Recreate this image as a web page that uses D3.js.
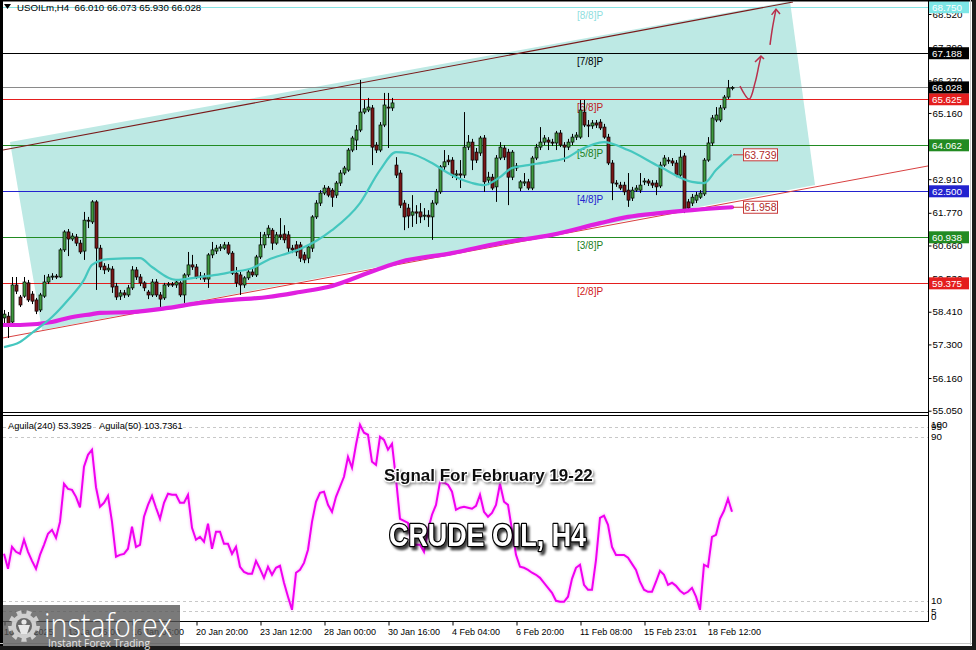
<!DOCTYPE html>
<html><head><meta charset="utf-8">
<script src="https://cdn.jsdelivr.net/npm/d3@7"></script>
<style>body{margin:0;background:#fff;overflow:hidden}svg{display:block}</style>
</head><body>
<svg id="c" width="976" height="650"></svg>
<script>
// ---------- DATA ----------
const symbolHeader = "USOILm,H4  66.010 66.073 65.930 66.028";
const subHeader = "Aguila(240) 53.3925   Aguila(50) 103.7361";
const opens = [58.20,58.26,58.06,59.32,58.91,58.94,59.39,59.01,58.81,58.47,
58.94,59.42,59.59,59.62,59.59,60.51,61.12,60.88,60.95,60.74,
60.47,61.52,61.46,62.14,60.57,59.96,59.83,59.86,59.28,58.94,
59.05,58.98,59.22,59.83,59.59,59.39,59.08,58.98,59.42,58.98,
58.88,59.32,59.35,59.32,59.39,58.98,59.66,60.00,59.93,59.59,
59.62,59.52,60.34,60.47,60.57,60.57,60.68,60.40,59.72,59.66,
59.32,59.56,59.76,59.66,60.27,60.68,61.02,61.18,60.74,61.02,
61.05,61.02,60.57,60.68,60.68,60.34,60.23,60.57,61.63,62.10,
62.44,62.61,62.54,62.37,62.78,63.12,63.22,63.90,64.24,64.58,
65.19,65.26,65.33,64.07,63.90,64.75,65.36,65.33,63.39,63.12,
62.10,61.93,61.69,61.80,61.80,61.66,61.69,61.63,62.10,62.48,
63.33,63.56,63.56,63.05,63.09,63.05,64.00,64.17,63.83,63.80,
64.31,62.88,62.98,62.65,63.63,63.97,63.83,62.98,63.36,62.61,
62.78,62.82,62.61,63.63,64.00,64.17,64.24,64.17,64.14,64.48,
64.07,64.00,64.17,64.34,64.34,65.19,64.75,64.72,64.82,64.85,
64.68,64.34,63.46,62.78,62.71,62.71,62.54,62.27,62.54,62.54,
62.82,62.85,62.78,62.78,62.68,63.39,63.56,63.53,63.46,63.05,
63.70,62.14,62.10,62.20,62.30,62.41,63.56,64.14,64.92,64.92,
65.33,65.70,66.010];
const highs = [58.47,58.40,59.59,59.59,58.98,59.59,59.49,59.11,58.88,59.05,
59.66,59.69,59.72,59.69,60.57,61.18,61.22,61.08,61.05,60.85,
61.80,61.63,62.20,62.20,60.68,60.06,60.03,59.96,59.39,59.15,
59.15,59.32,59.96,59.93,59.69,59.45,59.15,59.52,59.52,59.08,
59.39,59.42,59.42,59.49,59.45,59.72,60.44,60.34,60.03,59.76,
59.72,60.40,60.78,60.68,60.71,60.78,60.78,60.47,59.93,59.76,
59.62,59.86,59.86,60.34,61.12,61.12,61.35,61.25,61.12,61.59,
61.35,61.15,60.68,60.81,60.78,60.44,60.71,61.69,62.20,62.54,
62.71,62.68,62.61,62.85,63.22,63.36,63.97,64.38,64.75,66.28,
65.60,65.67,65.43,64.17,64.85,65.84,65.84,65.67,63.66,63.22,
62.20,62.07,62.37,62.03,62.10,61.93,61.86,62.20,62.58,63.39,
63.90,63.73,63.66,63.22,63.56,65.19,64.41,64.28,63.97,64.38,
64.41,63.16,63.09,63.73,64.17,64.07,63.94,63.90,63.46,62.88,
63.12,62.92,63.70,64.11,64.68,64.41,64.34,64.28,64.55,64.58,
64.17,64.28,64.45,64.51,65.60,65.60,64.92,64.92,64.92,64.95,
64.79,64.45,63.56,62.88,62.82,62.82,63.12,62.65,62.71,63.12,
62.95,62.92,62.88,62.88,63.50,63.73,63.66,63.63,63.56,63.90,
63.80,62.24,62.41,62.48,62.54,63.63,64.34,65.09,65.36,65.43,
65.77,66.28,66.073];
const lows = [57.99,57.52,57.99,59.01,58.57,58.88,58.74,58.67,58.33,58.40,
58.88,59.35,59.49,59.52,59.56,60.44,60.30,60.81,60.64,60.37,
60.17,61.25,61.39,59.15,59.83,59.69,59.76,59.05,58.81,58.81,
58.88,58.91,59.15,59.49,59.28,59.11,58.84,58.91,58.91,58.57,
58.81,59.25,59.25,59.22,58.91,58.71,59.59,59.83,59.52,59.49,
59.42,59.22,60.23,60.37,60.47,60.51,60.34,59.66,59.25,58.98,
59.22,59.49,59.59,59.59,60.20,60.57,60.91,60.51,60.68,60.85,
60.74,60.40,60.40,60.30,60.10,60.06,60.06,60.44,61.56,62.00,
62.37,62.30,61.97,62.27,62.68,63.05,63.16,63.83,63.90,64.51,
65.12,65.19,63.39,63.80,63.83,64.68,63.97,65.23,62.95,61.93,
61.18,61.25,61.29,61.39,61.42,61.52,61.29,60.85,62.03,62.41,
63.22,63.39,62.95,62.88,62.61,62.95,63.90,63.22,63.46,63.70,
62.48,62.71,62.54,62.14,63.56,63.56,62.03,62.88,63.19,62.51,
62.68,62.54,62.54,63.56,63.90,64.07,63.90,64.04,63.90,64.00,
63.50,63.90,64.07,64.24,64.28,64.68,64.34,64.62,64.65,64.58,
64.28,63.39,62.20,62.65,62.54,62.37,61.97,62.17,62.48,62.44,
62.71,62.68,62.61,62.37,62.61,63.33,63.43,63.36,62.98,62.98,
61.76,61.83,62.00,62.10,62.24,62.34,63.50,64.04,64.85,64.85,
65.26,65.63,65.930];
const closes = [58.33,57.96,59.32,59.11,58.64,59.42,58.81,58.77,58.43,58.98,
59.42,59.59,59.62,59.59,60.51,61.12,60.88,60.98,60.74,60.44,
61.52,61.49,62.14,60.57,59.93,59.83,59.89,59.25,58.91,59.05,
58.98,59.22,59.83,59.59,59.39,59.22,58.98,59.42,58.98,58.84,
59.32,59.35,59.32,59.42,58.98,59.66,60.00,59.93,59.59,59.62,
59.52,60.34,60.51,60.57,60.61,60.68,60.40,59.72,59.39,59.32,
59.56,59.76,59.66,60.27,60.68,61.02,61.25,60.74,61.02,60.95,
60.85,60.57,60.51,60.44,60.23,60.17,60.61,61.63,62.10,62.44,
62.61,62.37,62.30,62.78,63.12,63.29,63.90,64.31,64.58,65.19,
65.30,65.36,64.00,63.90,64.75,65.43,65.33,65.50,63.05,62.03,
61.63,61.66,61.80,61.76,61.63,61.69,61.63,62.10,62.48,63.33,
63.50,63.50,63.05,63.09,63.05,64.00,64.17,63.56,63.56,64.31,
62.82,62.98,62.61,63.63,64.00,63.66,62.98,63.83,63.29,62.82,
62.82,62.61,63.63,64.00,64.17,64.31,64.17,64.14,64.48,64.07,
64.00,64.17,64.34,64.41,65.26,64.75,64.72,64.82,64.75,64.65,
64.34,63.46,62.78,62.75,62.61,62.48,62.20,62.54,62.61,62.71,
62.85,62.78,62.71,62.65,63.39,63.63,63.53,63.46,63.05,63.66,
61.86,61.93,62.30,62.37,62.44,63.56,64.14,64.99,65.09,65.33,
65.70,66.01,66.028];

// moving averages (bar index, price)
const maFastIdx = [0,4,7,12,16,20,22,26,34,37,43,49,53,57,62,66,71,74,78,82,89,94,98,101,107,111,117,120,124,127,131,136,141,144,150,156,164,172,175,178,182];
const maFastVal = [57.21,57.38,57.69,58.23,58.81,59.49,60.00,60.20,60.23,59.93,59.49,59.59,59.66,59.76,59.89,60.17,60.40,60.54,60.81,61.18,62.10,63.22,63.83,63.80,63.46,63.12,62.78,62.71,62.98,63.29,63.39,63.50,63.66,63.90,64.17,63.90,63.33,62.82,62.78,63.22,63.739];
const maSlowIdx = [0,4,12,16,22,24,32,41,49,57,66,74,81,93,99,112,124,137,149,156,164,172,182];
const maSlowVal = [57.96,57.96,58.06,58.20,58.33,58.37,58.40,58.54,58.71,58.81,58.91,59.08,59.25,59.83,60.10,60.40,60.74,61.02,61.42,61.63,61.76,61.86,61.958];

// Aguila(240) oscillator, one value per bar
const aguila = [32.9,25.6,36.3,33.9,32.9,39.8,33.9,29.5,25.6,32.4,
37.3,42.7,44.6,40.7,48.5,67.1,64.6,64.1,60.7,55.6,
75.4,81.2,83.7,65.4,55.9,57.8,61.2,48.5,31.5,32.4,
32.9,35.4,46.1,36.3,37.3,51.0,56.8,61.2,55.4,50.0,
57.8,62.2,61.7,61.7,57.8,57.8,61.7,45.6,39.8,41.2,
38.8,47.6,35.4,43.7,43.7,37.8,37.8,32.9,36.3,26.6,
24.1,23.2,23.2,29.5,25.6,21.2,26.6,22.7,26.1,27.1,
18.8,12.0,5.6,23.7,25.1,28.5,34.9,48.5,58.3,62.7,
63.2,56.8,53.4,60.7,65.6,70.5,80.2,74.9,86.1,95.9,
92.0,91.0,77.8,76.3,90.0,88.5,83.7,86.6,69.5,50.0,
49.0,48.0,37.3,37.3,37.3,33.9,44.6,52.0,56.8,68.0,
67.6,66.6,63.2,54.4,55.4,55.9,55.4,54.9,56.3,61.7,
53.4,51.0,52.9,56.8,67.1,58.3,56.8,44.6,32.4,26.6,
26.1,25.1,23.7,22.7,21.2,18.8,16.3,13.9,10.0,9.5,
9.5,12.0,20.7,26.1,27.6,17.8,15.4,15.4,30.0,50.5,
51.5,47.1,36.3,32.4,32.4,32.4,31.0,28.0,25.1,19.3,
15.4,14.4,14.4,19.3,24.6,22.7,17.8,18.8,17.3,14.9,
13.4,14.4,16.3,12.0,5.6,27.6,26.6,41.2,42.2,50.0,
53.9,59.8,53.4];
const aguilaLevels = [95,90,10,5];
const aguilaTicks = [100,95,90,10,5,0];

// Murrey levels
const mmLevels = [68.75,67.188,65.625,64.062,62.5,60.938,59.375];
const mmNames = ["[8/8]P","[7/8]P","[6/8]P","[5/8]P","[4/8]P","[3/8]P","[2/8]P"];
const mmColors = ["#86e4e4","#000000","#e41e1e","#228b22","#2323cf","#228b22","#e41e1e"];
const mmTextColors = ["#8fdede","#000000","#c02020","#208020","#2323cf","#208020","#d02020"];
const lastPrice = 66.028;
const maFastLabel = 63.739, maSlowLabel = 61.958;

// channel (bar index, price)
const upperLine = [[-0.25,63.90],[197.25,68.93]];
const lowerLine = [[-0.25,57.52],[231,63.36]];
const channelFill = [[1.5,64.17],[196.5,68.95],[202.75,62.71],[9.5,57.79]];
// forecast arrows (bar index, price)
const arrow1 = [[184,66.07],[186.3,65.63],[187.75,66.18],[188.75,66.79],[189.25,67.09]];
const arrow1Head = [[187.75,66.89],[189.25,67.09],[190,66.99]];
const arrow2 = [[191.5,67.47],[192.17,68.09],[193,68.68]];
const arrow2Head = [[191.9,68.49],[193,68.68],[194,68.52]];

const priceTicks = [68.52,67.39,66.27,65.16,64.04,62.91,61.77,60.66,59.53,58.41,57.30,56.16,55.05];
const timeTickIdx = [0,16,32,48,64,80,96,112,128,144,160,176];
const timeTickLabels = ["10 Jan 2025","13 Jan 16:00","16 Jan 06:00","20 Jan 20:00","23 Jan 12:00","28 Jan 00:00","30 Jan 16:00","4 Feb 04:00","6 Feb 20:00","11 Feb 08:00","15 Feb 23:01","18 Feb 12:00"];

// ---------- LAYOUT ----------
const svg = d3.select("#c");
const L = 3, R = 928, mainT = 1.5, mainB = 412.5, subT = 415.5, subB = 621.5;
const x = d3.scaleLinear().domain([0, 182]).range([4, 732]);
const y = d3.scaleLinear().domain([55.05, 68.52]).range([410.7, 14]);
const ys = d3.scaleLinear().domain([0, 100]).range([621.3, 416.3]);
const FONT = "'Liberation Sans', Arial, sans-serif";

svg.append("rect").attr("width",976).attr("height",650).attr("fill","#fff");
const defs = svg.append("defs");
defs.append("clipPath").attr("id","cm").append("rect").attr("x",L).attr("y",mainT).attr("width",R-L).attr("height",mainB-mainT);
defs.append("clipPath").attr("id","cs").append("rect").attr("x",L).attr("y",subT).attr("width",R-L).attr("height",subB-subT);
const f1 = defs.append("filter").attr("id","shadow").attr("x","-10%").attr("y","-30%").attr("width","130%").attr("height","170%");
f1.append("feDropShadow").attr("dx",2.5).attr("dy",3).attr("stdDeviation",1.2).attr("flood-color","#000").attr("flood-opacity",0.75);
const f2 = defs.append("filter").attr("id","shadow2").attr("x","-10%").attr("y","-30%").attr("width","130%").attr("height","170%");
f2.append("feDropShadow").attr("dx",1.5).attr("dy",2).attr("stdDeviation",1).attr("flood-color","#555").attr("flood-opacity",0.6);
const f3 = defs.append("filter").attr("id","glow");
f3.append("feGaussianBlur").attr("stdDeviation",1.2);

const main = svg.append("g").attr("clip-path","url(#cm)");
const pt = d => [x(d[0]), y(d[1])];

// channel fill
main.append("path").attr("d", d3.line()(channelFill.map(pt)) + "Z").attr("fill","#bde9e4");

// Murrey lines
mmLevels.forEach((v,k)=>{
  const yy = Math.round(y(v)) + 0.5;
  main.append("line").attr("x1",L).attr("x2",R).attr("y1",yy).attr("y2",yy).attr("stroke",mmColors[k]).attr("stroke-width",1);
  main.append("text").attr("x",577).attr("y",yy+11).attr("font-family",FONT).attr("font-size",10).attr("fill",mmTextColors[k]).text(mmNames[k]);
});
// last price line
{ const yy = Math.round(y(lastPrice)) + 0.5;
  main.append("line").attr("x1",L).attr("x2",R).attr("y1",yy).attr("y2",yy).attr("stroke","#8a8a8a").attr("stroke-width",1); }

// channel lines
main.append("line").attr("x1",x(upperLine[0][0])).attr("y1",y(upperLine[0][1])).attr("x2",x(upperLine[1][0])).attr("y2",y(upperLine[1][1])).attr("stroke","#7a1a1a").attr("stroke-width",1.1);
main.append("line").attr("x1",x(lowerLine[0][0])).attr("y1",y(lowerLine[0][1])).attr("x2",x(lowerLine[1][0])).attr("y2",y(lowerLine[1][1])).attr("stroke","#d84040").attr("stroke-width",1);

// candles
const bars = d3.range(opens.length);
const cg = main.append("g");
bars.forEach(i=>{
  const X = x(i);
  cg.append("line").attr("x1",X+0.5).attr("x2",X+0.5).attr("y1",y(highs[i])).attr("y2",y(lows[i])).attr("stroke","#000").attr("stroke-width",1);
  const up = closes[i] >= opens[i];
  const t = y(Math.max(opens[i],closes[i])), b = y(Math.min(opens[i],closes[i]));
  cg.append("rect").attr("x",X-1).attr("width",3).attr("y",t).attr("height",Math.max(1,b-t))
    .attr("fill", up ? "#3f9a3f" : "#7a1818").attr("stroke","#000").attr("stroke-width",0.7);
});

// moving averages
const lineGen = d3.line().x(d=>x(d[0])).y(d=>y(d[1])).curve(d3.curveMonotoneX);
main.append("path").attr("d", lineGen(maSlowIdx.map((v,k)=>[v,maSlowVal[k]]))).attr("fill","none").attr("stroke","#e020e0").attr("stroke-width",4.2).attr("stroke-linecap","round");
main.append("path").attr("d", lineGen(maFastIdx.map((v,k)=>[v,maFastVal[k]]))).attr("fill","none").attr("stroke","#45c7bf").attr("stroke-width",2.2);

// MA value labels
[[maFastLabel],[maSlowLabel]].forEach(([v])=>{
  const yy = y(v);
  main.append("line").attr("x1",x(182)+1).attr("x2",743).attr("y1",yy).attr("y2",yy).attr("stroke","#c83a3a").attr("stroke-width",1);
  main.append("rect").attr("x",743.5).attr("y",yy-6).attr("width",34).attr("height",12).attr("fill","#fff").attr("stroke","#c83a3a").attr("stroke-width",1);
  main.append("text").attr("x",760.5).attr("y",yy+4).attr("text-anchor","middle").attr("font-family",FONT).attr("font-size",10.5).attr("fill","#b02a2a").text(v.toFixed(3));
});

// arrows
const arrowLine = d3.line().x(d=>x(d[0])).y(d=>y(d[1])).curve(d3.curveCatmullRom);
[[arrow1,arrow1Head],[arrow2,arrow2Head]].forEach(([a,h])=>{
  main.append("path").attr("d",arrowLine(a)).attr("fill","none").attr("stroke","#b8304c").attr("stroke-width",1.5);
  main.append("path").attr("d",d3.line()(h.map(pt))).attr("fill","none").attr("stroke","#b8304c").attr("stroke-width",1.5);
});

// header
svg.append("path").attr("d","M4,4 L11,4 L7.5,9 Z").attr("fill","#000");
svg.append("text").attr("x",17).attr("y",10.5).attr("font-family",FONT).attr("font-size",9.7).attr("fill","#000").attr("xml:space","preserve").text(symbolHeader);

// price axis
const pa = svg.append("g").attr("transform",`translate(${R+0.5},0)`)
  .call(d3.axisRight(y).tickValues(priceTicks).tickFormat(d3.format(".3f")).tickSize(3).tickPadding(1));
pa.select(".domain").remove();
pa.selectAll("text").attr("font-family",FONT).attr("font-size",9.8).attr("fill","#000");
pa.selectAll("line").attr("stroke","#000");

// price boxes
const boxes = mmLevels.map((v,k)=>({v, c: k===0 ? "#7de6e6" : mmColors[k]})).concat([{v:lastPrice, c:"#000"}]);
boxes.forEach(b=>{
  const yy = y(b.v);
  svg.append("rect").attr("x",929).attr("y",Math.max(0,yy-6)).attr("width",40).attr("height",yy-6<0?12+(yy-6):12).attr("fill",b.c);
  svg.append("text").attr("x",932).attr("y",yy+3.6).attr("font-family",FONT).attr("font-size",9.8).attr("fill","#fff").text(b.v.toFixed(3));
});

// sub window
const sub = svg.append("g").attr("clip-path","url(#cs)");
aguilaLevels.forEach(v=>{
  const yy = Math.round(ys(v))+0.5;
  sub.append("line").attr("x1",L).attr("x2",R).attr("y1",yy).attr("y2",yy).attr("stroke","#c8c8c8").attr("stroke-dasharray","3,3");
});
const agLine = d3.line().x((d,i)=>x(i)).y(d=>ys(d));
sub.append("path").attr("d",agLine(aguila)).attr("fill","none").attr("stroke","#ff66ff").attr("stroke-width",3.5).attr("opacity",0.35).attr("filter","url(#glow)");
sub.append("path").attr("d",agLine(aguila)).attr("fill","none").attr("stroke","#f000f0").attr("stroke-width",2);
svg.append("text").attr("x",8).attr("y",428.5).attr("font-family",FONT).attr("font-size",9.3).attr("fill","#000").attr("xml:space","preserve").text(subHeader);

aguilaTicks.forEach(v=>{
  const yy = Math.min(616, Math.max(424, ys(v)));
  svg.append("text").attr("x",931).attr("y",yy+3.5).attr("font-family",FONT).attr("font-size",9.8).attr("fill","#000").text(v);
});

// time axis
const ta = svg.append("g").attr("transform",`translate(0.5,${subB})`)
  .call(d3.axisBottom(x).tickValues(timeTickIdx).tickFormat((d,k)=>timeTickLabels[k]).tickSize(4).tickPadding(3));
ta.select(".domain").remove();
ta.selectAll("line").attr("stroke","#000");
ta.selectAll("text").attr("text-anchor","start").attr("dx",-1).attr("font-family",FONT).attr("font-size",9).attr("fill","#000");

// frames
const fr = svg.append("g").attr("fill","none").attr("stroke","#000");
fr.append("line").attr("x1",R+0.5).attr("x2",R+0.5).attr("y1",0).attr("y2",subB);
fr.append("line").attr("x1",L).attr("x2",R).attr("y1",mainB).attr("y2",mainB);
fr.append("line").attr("x1",L).attr("x2",R).attr("y1",subT).attr("y2",subT);
fr.append("line").attr("x1",L).attr("x2",R+1).attr("y1",subB).attr("y2",subB);
svg.append("rect").attr("x",0).attr("y",0).attr("width",3).attr("height",650).attr("fill","#000");
svg.append("rect").attr("x",0).attr("y",0).attr("width",976).attr("height",1.5).attr("fill","#000");
svg.append("line").attr("x1",970.5).attr("x2",970.5).attr("y1",0).attr("y2",645).attr("stroke","#c8c8c8");
svg.append("rect").attr("x",972).attr("y",0).attr("width",4).attr("height",650).attr("fill","#1a1a1a");
svg.append("line").attr("x1",0).attr("x2",972).attr("y1",643.5).attr("y2",643.5).attr("stroke","#c8c8c8");
svg.append("rect").attr("x",0).attr("y",646).attr("width",976).attr("height",4).attr("fill","#1a1a1a");

// overlay titles
svg.append("text").attr("x",384).attr("y",481).attr("font-family",FONT).attr("font-weight","bold").attr("font-size",17)
  .attr("fill","#111").attr("stroke","#fff").attr("stroke-width",2.5).attr("paint-order","stroke").attr("filter","url(#shadow2)")
  .text("Signal For February 19-22");
svg.append("text").attr("x",389).attr("y",546).attr("font-family",FONT).attr("font-weight","bold").attr("font-size",31.5)
  .attr("textLength",197).attr("lengthAdjust","spacingAndGlyphs")
  .attr("fill","#fff").attr("stroke","#000").attr("stroke-width",2.6).attr("paint-order","stroke").attr("stroke-linejoin","round").attr("filter","url(#shadow)")
  .text("CRUDE OIL, H4");

// logo
const lg = svg.append("g");
lg.append("rect").attr("x",3).attr("y",605).attr("width",177).attr("height",41).attr("fill","#555").attr("opacity",0.78);
const gx = 24, gy = 626;
const teeth = 9, rO = 16, rI = 12.5;
let gp = "";
for (let k=0;k<teeth*2;k++){
  const a0 = (k/(teeth*2))*2*Math.PI, a1 = ((k+1)/(teeth*2))*2*Math.PI;
  const r = k%2===0 ? rO : rI;
  gp += (k===0?"M":"L") + (gx+r*Math.cos(a0)).toFixed(1)+","+(gy+r*Math.sin(a0)).toFixed(1)+" L"+(gx+r*Math.cos(a1)).toFixed(1)+","+(gy+r*Math.sin(a1)).toFixed(1)+" ";
}
lg.append("path").attr("d",gp+"Z").attr("fill","#d8d8d8").attr("opacity",0.9);
lg.append("circle").attr("cx",gx).attr("cy",gy).attr("r",8).attr("fill","#6a6a6a");
lg.append("circle").attr("cx",gx).attr("cy",gy-4).attr("r",2.6).attr("fill","#e8e8e8");
lg.append("path").attr("d",`M${gx-6},${gy-1} L${gx+6},${gy-1} L${gx+3},${gy+8} L${gx-3},${gy+8} Z`).attr("fill","#e8e8e8");
lg.append("text").attr("x",44).attr("y",637).attr("font-family","'Open Sans', sans-serif").attr("font-weight",300).attr("font-size",33)
  .attr("textLength",128).attr("lengthAdjust","spacingAndGlyphs").attr("fill","#fff").text("instaforex");
lg.append("text").attr("x",48).attr("y",647).attr("font-family","'Open Sans', sans-serif").attr("font-size",10.5)
  .attr("textLength",102).attr("lengthAdjust","spacingAndGlyphs").attr("fill","#e6e6e6").text("Instant Forex Trading");
</script>
</body></html>
